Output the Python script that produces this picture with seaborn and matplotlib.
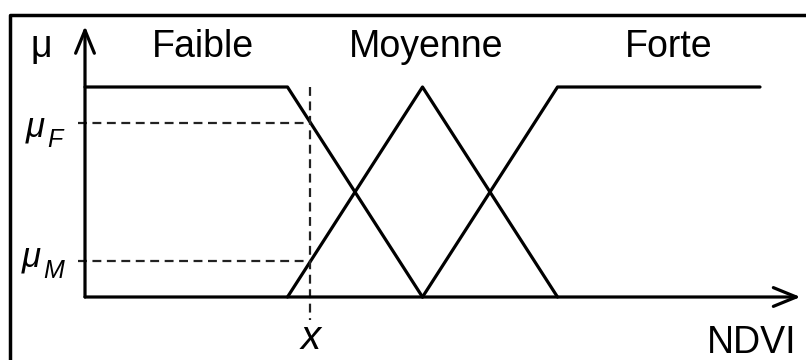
import numpy as np
import pandas as pd
import matplotlib
matplotlib.use("Agg")
import matplotlib.pyplot as plt
import seaborn as sns

# fonctions d'appartenance (NDVI, unités arbitraires)
faible_x = [0.0, 1.5, 2.5]
faible_mu = [1.0, 1.0, 0.0]
moyenne_x = [1.5, 2.5, 3.5]
moyenne_mu = [0.0, 1.0, 0.0]
forte_x = [2.5, 3.5, 5.0]
forte_mu = [0.0, 1.0, 1.0]

classes = ["Faible", "Moyenne", "Forte"]
class_label_x = [0.87, 2.53, 4.32]

# valeur d'entrée et degrés d'appartenance
x_input = 1.67
mu_f = 0.83
mu_m = 0.17

sns.set_style("white")
plt.rcParams['font.family'] = ['Liberation Sans', 'DejaVu Sans']
plt.rcParams['text.color'] = 'black'

df = pd.concat([
    pd.DataFrame({'x': faible_x, 'mu': faible_mu, 'classe': 'Faible'}),
    pd.DataFrame({'x': moyenne_x, 'mu': moyenne_mu, 'classe': 'Moyenne'}),
    pd.DataFrame({'x': forte_x, 'mu': forte_mu, 'classe': 'Forte'}),
], ignore_index=True)

fig = plt.figure(figsize=(8.06, 3.6), dpi=100)
ax = fig.add_axes([0, 0, 1, 1])

lw = 2.3
for c in classes:
    d = df[df['classe'] == c]
    sns.lineplot(data=d, x='x', y='mu', color='black', linewidth=lw,
                 sort=False, estimator=None, ax=ax, legend=False)

# axes avec flèches
arrow = dict(arrowstyle='->,head_length=1.1,head_width=0.45', color='black',
             lw=lw, mutation_scale=15, shrinkA=0, shrinkB=0)
ax.annotate('', xy=(5.3, 0), xytext=(0, 0), arrowprops=arrow)
ax.annotate('', xy=(0, 1.29), xytext=(0, 0), arrowprops=arrow)

# pointillés
dash = dict(color='#222222', lw=1.6, ls=(0, (4, 2.5)))
ax.plot([x_input, x_input], [1.0, -0.11], **dash)
ax.plot([-0.05, x_input], [mu_f, mu_f], **dash)
ax.plot([-0.05, x_input], [mu_m, mu_m], **dash)

# textes
for name, cx in zip(classes, class_label_x):
    ax.text(cx, 1.19, name, ha='center', va='center', fontsize=27)
ax.text(-0.32, 1.19, 'μ', ha='center', va='center', fontsize=27)
# μ_F et μ_M (μ en italique + indice)
ax.text(-0.37, mu_f - 0.02, 'μ', ha='center', va='center', fontsize=25, style='italic')
ax.text(-0.22, mu_f - 0.08, 'F', ha='center', va='center', fontsize=18, style='italic')
ax.text(-0.40, mu_m + 0.02, 'μ', ha='center', va='center', fontsize=25, style='italic')
ax.text(-0.23, mu_m - 0.045, 'M', ha='center', va='center', fontsize=18, style='italic')
ax.text(x_input, -0.195, 'x', ha='center', va='center', fontsize=29, style='italic')
ax.text(4.94, -0.22, 'NDVI', ha='center', va='center', fontsize=27)

ax.set_xlim(-85 / 135, 721 / 135)
ax.set_ylim(-63 / 210, 297 / 210)
ax.axis('off')

# cadre
ax.plot([0.0124, 0.0124, 1.0], [0.0, 0.958, 0.958], color='black', lw=2.5,
        transform=ax.transAxes, clip_on=False)

fig.savefig('out.png', dpi=100)
